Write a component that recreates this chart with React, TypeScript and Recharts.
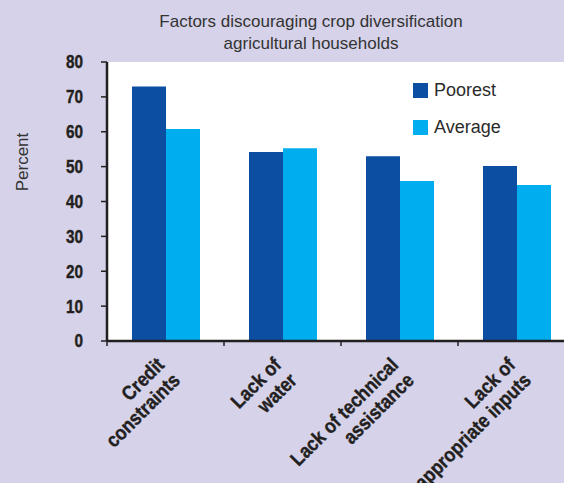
import React from 'react';
import { BarChart, Bar, XAxis, YAxis, CartesianGrid } from 'recharts';

const categories = [
  'Credit\nconstraints',
  'Lack of\nwater',
  'Lack of technical\nassistance',
  'Lack of\nappropriate inputs',
];
const poorest = [73, 54.2, 53, 50.2];
const average = [60.8, 55.3, 45.9, 44.7];
const yTicks = [0, 10, 20, 30, 40, 50, 60, 70, 80];

const seriesNames = ['Poorest', 'Average'];
const seriesColors = ['#0c4ea2', '#00aeef'];

const data = categories.map((name, i) => ({
  name,
  poorest: poorest[i],
  average: average[i],
}));

const BG = '#d5d2e9';
const INK = '#231f20';
const BOLD = "'Liberation Sans', Arial, sans-serif";
const SANS = "'Liberation Sans', Arial, sans-serif";

const CHART_W = 576;
const CHART_H = 483;
const AXIS_W = 107;
const MARGIN = { top: 62, right: 1, left: 0, bottom: 0 };
const bandWidth = (CHART_W - AXIS_W - MARGIN.left - MARGIN.right) / categories.length;

// condensed heavy labels: squeeze a bold face horizontally, thicken with a thin stroke
const ValueTick = (props: any) => {
  const { x, y, payload } = props;
  return (
    <g transform={`translate(${x},${y}) scale(0.85,1)`}>
      <text
        textAnchor="end"
        dy="0.36em"
        fontFamily={BOLD}
        fontWeight="bold"
        fontSize={18}
        fill={INK}
        stroke={INK}
        strokeWidth={0.4}
      >
        {payload.value}
      </text>
    </g>
  );
};

const CategoryTick = (props: any) => {
  const { x, y, payload } = props;
  const lines = String(payload.value).split('\n');
  const edge = x - bandWidth / 2;
  return (
    <g>
      <line x1={edge} y1={y} x2={edge} y2={y + 5} stroke={INK} strokeWidth={1.5} />
      <g transform={`translate(${x},${y + 25}) rotate(-45) scale(0.88,1)`}>
        <text
          textAnchor="end"
          fontFamily={BOLD}
          fontWeight="bold"
          fontSize={20}
          fill={INK}
          stroke={INK}
          strokeWidth={0.4}
        >
          {lines.map((line, i) => (
            <tspan key={i} x={0} dy={i === 0 ? 0 : 22}>
              {line}
            </tspan>
          ))}
        </text>
      </g>
    </g>
  );
};

export default function App() {
  return (
    <div
      style={{
        position: 'absolute',
        left: 0,
        top: 0,
        width: 564,
        height: 483,
        overflow: 'hidden',
        background: BG,
      }}
    >
      <div
        style={{
          position: 'absolute',
          top: 11,
          left: 111,
          width: 400,
          textAlign: 'center',
          fontFamily: SANS,
          fontSize: 17,
          lineHeight: '22px',
          color: '#333',
        }}
      >
        Factors discouraging crop diversification
        <br />
        agricultural households
      </div>
      <div
        style={{
          position: 'absolute',
          left: 22,
          top: 162,
          transform: 'translate(-50%, -50%) rotate(-90deg)',
          fontFamily: SANS,
          fontSize: 17,
          lineHeight: '17px',
          color: '#333',
          whiteSpace: 'nowrap',
        }}
      >
        Percent
      </div>
      <BarChart
        width={CHART_W}
        height={CHART_H}
        data={data}
        margin={MARGIN}
        barGap={0}
        barSize={34}
      >
        <CartesianGrid fill="#ffffff" horizontal={false} vertical={false} />
        <XAxis
          dataKey="name"
          height={CHART_H - 341}
          interval={0}
          tickSize={0}
          tickMargin={0}
          tickLine={false}
          tick={<CategoryTick />}
          axisLine={{ stroke: INK, strokeWidth: 2.5 }}
        />
        <YAxis
          width={AXIS_W}
          domain={[0, 80]}
          ticks={yTicks}
          interval={0}
          tickSize={6}
          tickMargin={18}
          axisLine={{ stroke: INK, strokeWidth: 2.5 }}
          tickLine={{ stroke: INK, strokeWidth: 1.5 }}
          tick={<ValueTick />}
        />
        <Bar dataKey="poorest" name="Poorest" fill={seriesColors[0]} isAnimationActive={false} />
        <Bar dataKey="average" name="Average" fill={seriesColors[1]} isAnimationActive={false} />
      </BarChart>
      <div
        style={{
          position: 'absolute',
          left: 413,
          top: 83,
          fontFamily: SANS,
          fontSize: 18,
          color: '#2b2b2b',
        }}
      >
        {seriesNames.map((name, i) => (
          <div key={name} style={{ display: 'flex', alignItems: 'center', height: 15, marginBottom: 22 }}>
            <span
              style={{
                width: 15,
                height: 15,
                background: seriesColors[i],
                display: 'inline-block',
                marginRight: 6,
              }}
            />
            <span style={{ lineHeight: '15px' }}>{name}</span>
          </div>
        ))}
      </div>
    </div>
  );
}
